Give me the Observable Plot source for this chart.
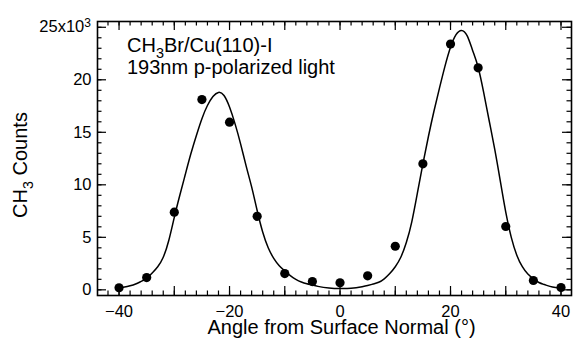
<!DOCTYPE html>
<html><head><meta charset="utf-8">
<script src="https://cdn.jsdelivr.net/npm/d3@7"></script>
<script src="https://cdn.jsdelivr.net/npm/@observablehq/plot@0.6"></script>
<style>
body{margin:0;background:#fff}
svg{font-family:"Liberation Sans",Arial,Helvetica,sans-serif}
</style>
</head><body><div id="chart"></div>
<script>
// measured data points (angle in degrees, CH3 counts in thousands)
const angles = [-40, -35, -30, -25, -20, -15, -10, -5, 0, 5, 10, 15, 20, 25, 30, 35, 40];
const counts = [0.2, 1.17, 7.39, 18.12, 15.96, 7.0, 1.55, 0.79, 0.67, 1.33, 4.15, 12.0, 23.4, 21.14, 6.03, 0.89, 0.22];

// fitted curve
const fitAngles = [-40,-39,-38,-37,-36,-35,-34,-33,-32,-31,-30,-29,-28,-27,-26,-25,-24,-23,-22,-21,-20,-19,-18,-17,-16,-15,-14,-13,-12,-11,-10,-9,-8,-7,-6,-5,-4,-2,0,2,4,5,6,7,8,9,10,11,12,13,14,15,16,17,18,19,20,21,22,23,24,25,26,27,28,29,30,31,32,33,34,35,36,37,38,39,40];
const fitCounts = [0.18,0.26,0.38,0.55,0.8,1.1,1.6,2.2,3.1,4.7,6.9,9.0,11.0,12.95,14.7,16.3,17.55,18.4,18.8,18.5,17.4,15.8,13.9,11.8,9.8,7.55,5.5,4.0,3.0,2.3,1.8,1.35,1.0,0.75,0.58,0.45,0.33,0.18,0.12,0.15,0.3,0.41,0.55,0.72,1.05,1.55,2.2,3.1,4.5,6.5,9.2,12.0,14.6,17.0,19.2,21.3,23.1,24.3,24.7,24.2,22.8,21.2,18.8,16.1,13.4,10.4,7.4,5.0,3.3,2.2,1.5,1.05,0.7,0.5,0.33,0.22,0.15];

// ticks
const xLabelTicks = [-40, -20, 0, 20, 40];
const xMajorTicks = [-40, -30, -20, -10, 0, 10, 20, 30, 40];
const xMinorTicks = [-42,-40,-38,-36,-34,-32,-30,-28,-26,-24,-22,-20,-18,-16,-14,-12,-10,-8,-6,-4,-2,0,2,4,6,8,10,12,14,16,18,20,22,24,26,28,30,32,34,36,38,40];
const yLabelTicks = [0, 5, 10, 15, 20];
const yMajorTicks = [0, 5, 10, 15, 20, 25];
const yMinorTicks = [0,1,2,3,4,5,6,7,8,9,10,11,12,13,14,15,16,17,18,19,20,21,22,23,24,25];
const yTopLabel = "25x10";
const yTopExponent = "3";

const xTitle = "Angle from Surface Normal (°)";
const annotation1 = ["CH", "3", "Br/Cu(110)-I"];
const annotation2 = "193nm p-polarized light";
const yTitle = ["CH", "3", " Counts"];

const points = angles.map((a, i) => ({angle: a, count: counts[i]}));
const fit = fitAngles.map((a, i) => ({angle: a, count: fitCounts[i]}));

const W = 580, H = 342, mL = 97, mR = 9, mT = 21, mB = 47;
const innerW = W - mL - mR, innerH = H - mT - mB;
const font = '"Liberation Sans", Arial, Helvetica, sans-serif';

const plot = Plot.plot({
  width: W, height: H,
  marginLeft: mL, marginRight: mR, marginTop: mT, marginBottom: mB,
  x: {domain: [-43.9, 41.9]},
  y: {domain: [-0.54, 25.55]},
  style: {fontFamily: font, fontSize: "16.5px", color: "black", background: "white"},
  marks: [
    Plot.tickX(xMinorTicks, {x: d => d, insetTop: innerH - 4.5, stroke: "black", strokeWidth: 1.2}),
    Plot.tickX(xMinorTicks, {x: d => d, insetBottom: innerH - 4.5, stroke: "black", strokeWidth: 1.2}),
    Plot.tickX(xMajorTicks, {x: d => d, insetTop: innerH - 9, stroke: "black", strokeWidth: 1.2}),
    Plot.tickX(xMajorTicks, {x: d => d, insetBottom: innerH - 9, stroke: "black", strokeWidth: 1.2}),
    Plot.tickY(yMinorTicks, {y: d => d, insetRight: innerW - 4.5, stroke: "black", strokeWidth: 1.2}),
    Plot.tickY(yMinorTicks, {y: d => d, insetLeft: innerW - 4.5, stroke: "black", strokeWidth: 1.2}),
    Plot.tickY(yMajorTicks, {y: d => d, insetRight: innerW - 9, stroke: "black", strokeWidth: 1.2}),
    Plot.tickY(yMajorTicks, {y: d => d, insetLeft: innerW - 9, stroke: "black", strokeWidth: 1.2}),
    Plot.frame({stroke: "black", strokeWidth: 1.6}),
    Plot.axisX(xLabelTicks, {tickSize: 0, tickPadding: 10, label: null, fontSize: 16.5}),
    Plot.axisY(yLabelTicks, {tickSize: 0, tickPadding: 6, label: null, fontSize: 16.5}),
    Plot.text([xTitle], {text: d => d, frameAnchor: "bottom", dy: 38.5, dx: 7, fontSize: 20, fill: "black"}),
    Plot.line(fit, {x: "angle", y: "count", curve: "natural", stroke: "black", strokeWidth: 1.5}),
    Plot.dot(points, {x: "angle", y: "count", r: 4.6, fill: "black", stroke: "none"})
  ]
});
document.getElementById("chart").appendChild(plot);

const svg = d3.select(plot);
const yScale = plot.scale("y");

// top y label with superscript
const topLabel = svg.append("text")
  .attr("x", mL - 6).attr("y", yScale.apply(25)).attr("dy", "0.32em")
  .attr("text-anchor", "end").attr("font-size", 16.5).attr("fill", "black");
topLabel.append("tspan").text(yTopLabel);
topLabel.append("tspan").attr("dy", "-0.45em").attr("font-size", 12).text(yTopExponent);

function addSub(sel, parts, size) {
  sel.append("tspan").text(parts[0]);
  sel.append("tspan").attr("dy", size * 0.3).attr("font-size", size * 0.72).text(parts[1]);
  sel.append("tspan").attr("dy", -size * 0.3).text(parts[2]);
}

// annotation
const a1 = svg.append("text").attr("x", mL + 30).attr("y", mT + 31)
  .attr("text-anchor", "start").attr("font-size", 20).attr("fill", "black");
addSub(a1, annotation1, 20);
svg.append("text").attr("x", mL + 30).attr("y", mT + 53)
  .attr("text-anchor", "start").attr("font-size", 20).attr("fill", "black").text(annotation2);

// y title
const yt = svg.append("text")
  .attr("transform", `translate(${27},${165}) rotate(-90)`)
  .attr("text-anchor", "middle").attr("font-size", 20).attr("fill", "black");
addSub(yt, yTitle, 20);
</script>
</body></html>
